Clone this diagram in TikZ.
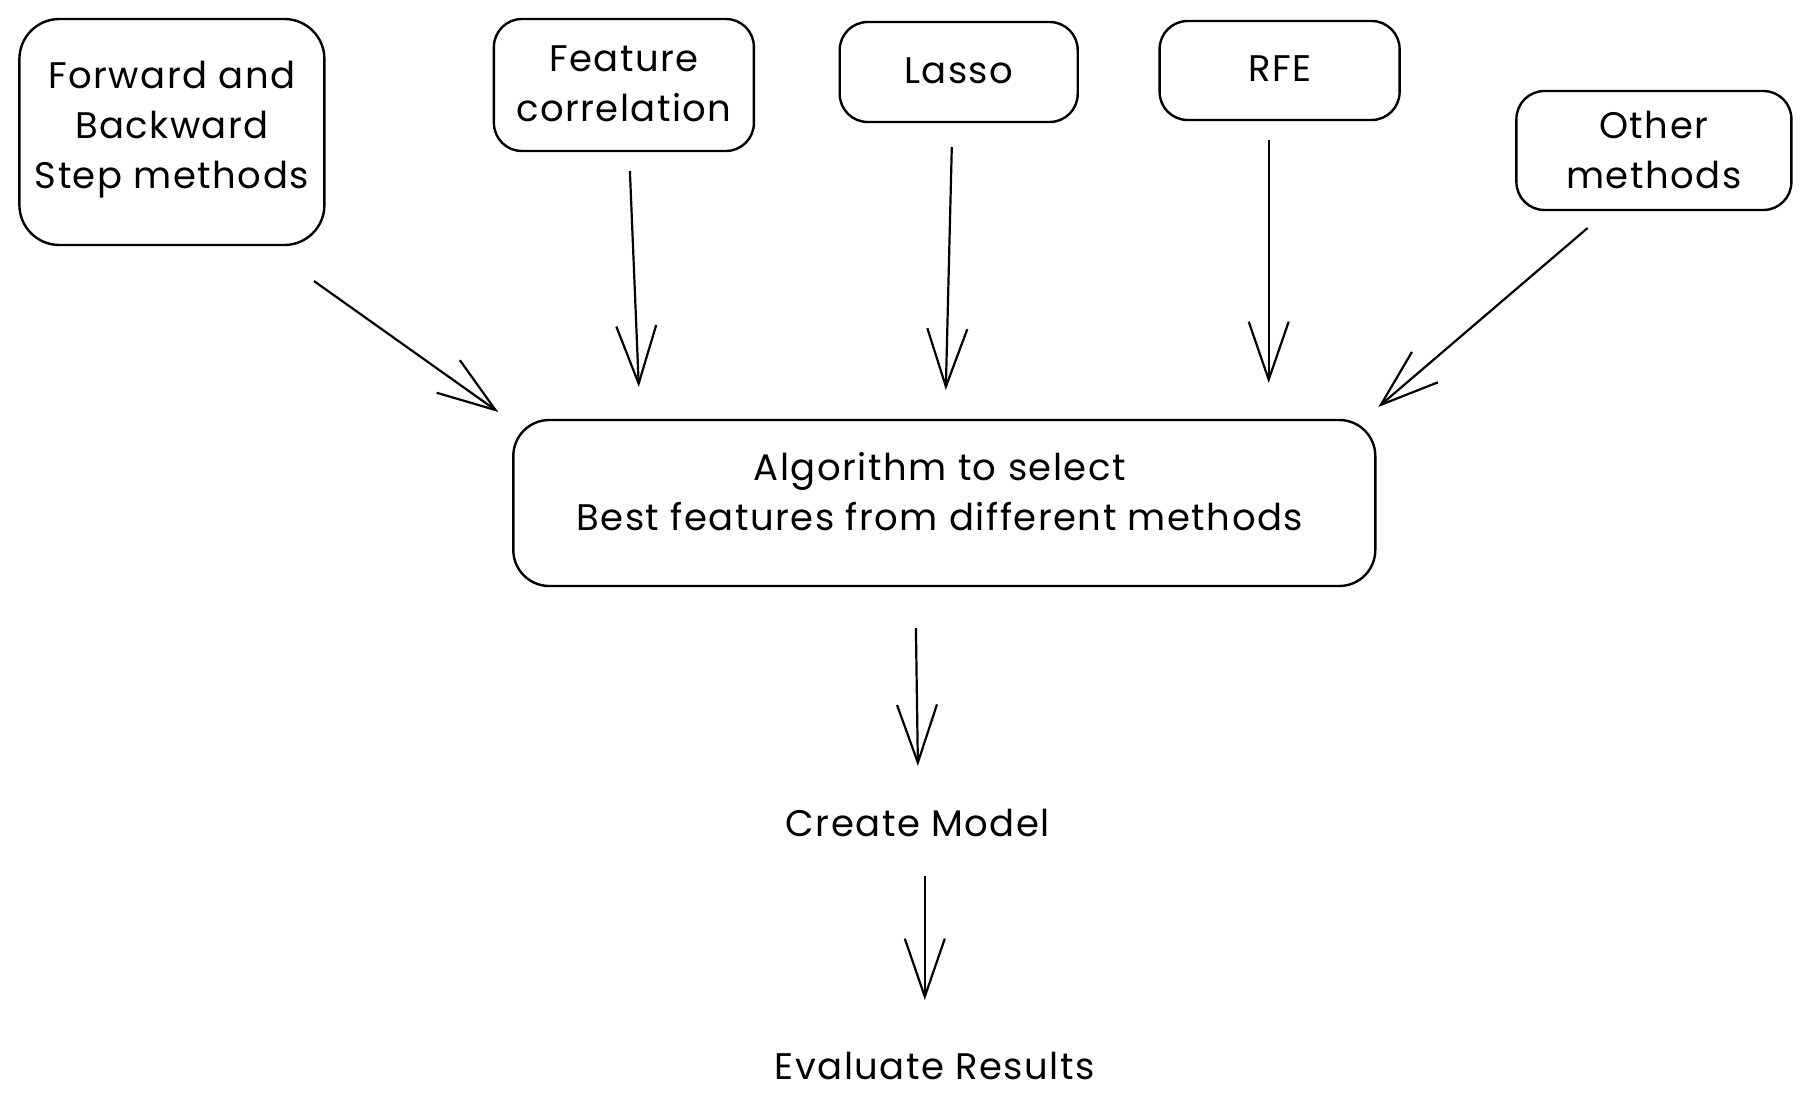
\documentclass[tikz,border=0pt]{standalone}
\usepackage{fontspec}
\setmainfont{Poppins}[LetterSpace=4]
\usetikzlibrary{arrows.meta}
\begin{document}
\begin{tikzpicture}[x=1pt,y=-1pt,
  box/.style={draw=black, line width=2.4pt, rounded corners=28pt, align=center, inner sep=0pt},
  lbl/.style={align=center, inner sep=0pt, font=\fontsize{37}{50}\selectfont},
  arr/.style={line width=2.2pt, -{Straight Barb[length=58pt,width=40pt,line width=2.2pt]}}
]
\useasboundingbox[fill=white] (0,0) rectangle (1810,1113);
% boxes
\node[box, minimum width=305pt, minimum height=226pt, rounded corners=40pt] (fwd) at (171.9,132) {};
\node[lbl] (fwdt) at (171.9,130) {Forward and\\Backward\\Step methods};
\node[box, minimum width=260pt, minimum height=132pt] (feat) at (623.9,85) {};
\node[lbl] (featt) at (623.9,84) {Feature\\correlation};
\node[box, minimum width=238pt, minimum height=100pt] (lasso) at (958.7,72) {};
\node[lbl] (lassot) at (958.7,71) {Lasso};
\node[box, minimum width=240pt, minimum height=99pt] (rfe) at (1279.6,70.5) {};
\node[lbl] (rfet) at (1279.6,69) {RFE};
\node[box, minimum width=275pt, minimum height=119pt] (oth) at (1653.9,150.5) {};
\node[lbl] (otht) at (1653.9,149.5) {Other\\methods};
\node[box, minimum width=862pt, minimum height=166pt, rounded corners=36pt] (algo) at (944.3,503) {};
\node[lbl] (algot) at (939.8,492) {Algorithm to select\\Best features from different methods};
\node[lbl] (model) at (917.9,823) {Create Model};
\node[lbl] (eval) at (934.8,1066) {Evaluate Results};
% arrow end points
\coordinate (a1s) at (313.9,281); \coordinate (a1e) at (498.3,412);
\coordinate (a2s) at (629.9,171); \coordinate (a2e) at (638.8,387);
\coordinate (a3s) at (951.8,147); \coordinate (a3e) at (945.8,390);
\coordinate (a4s) at (1268.7,140); \coordinate (a4e) at (1268.7,383);
\coordinate (a5s) at (1587.6,228); \coordinate (a5e) at (1378.3,407);
\coordinate (a6s) at (915.9,628); \coordinate (a6e) at (917.9,766);
\coordinate (a7s) at (924.8,876); \coordinate (a7e) at (924.8,1000);
\draw[arr] (a1s) -- (a1e);
\draw[arr] (a2s) -- (a2e);
\draw[arr] (a3s) -- (a3e);
\draw[arr] (a4s) -- (a4e);
\draw[arr] (a5s) -- (a5e);
\draw[arr] (a6s) -- (a6e);
\draw[arr] (a7s) -- (a7e);
\end{tikzpicture}
\end{document}
